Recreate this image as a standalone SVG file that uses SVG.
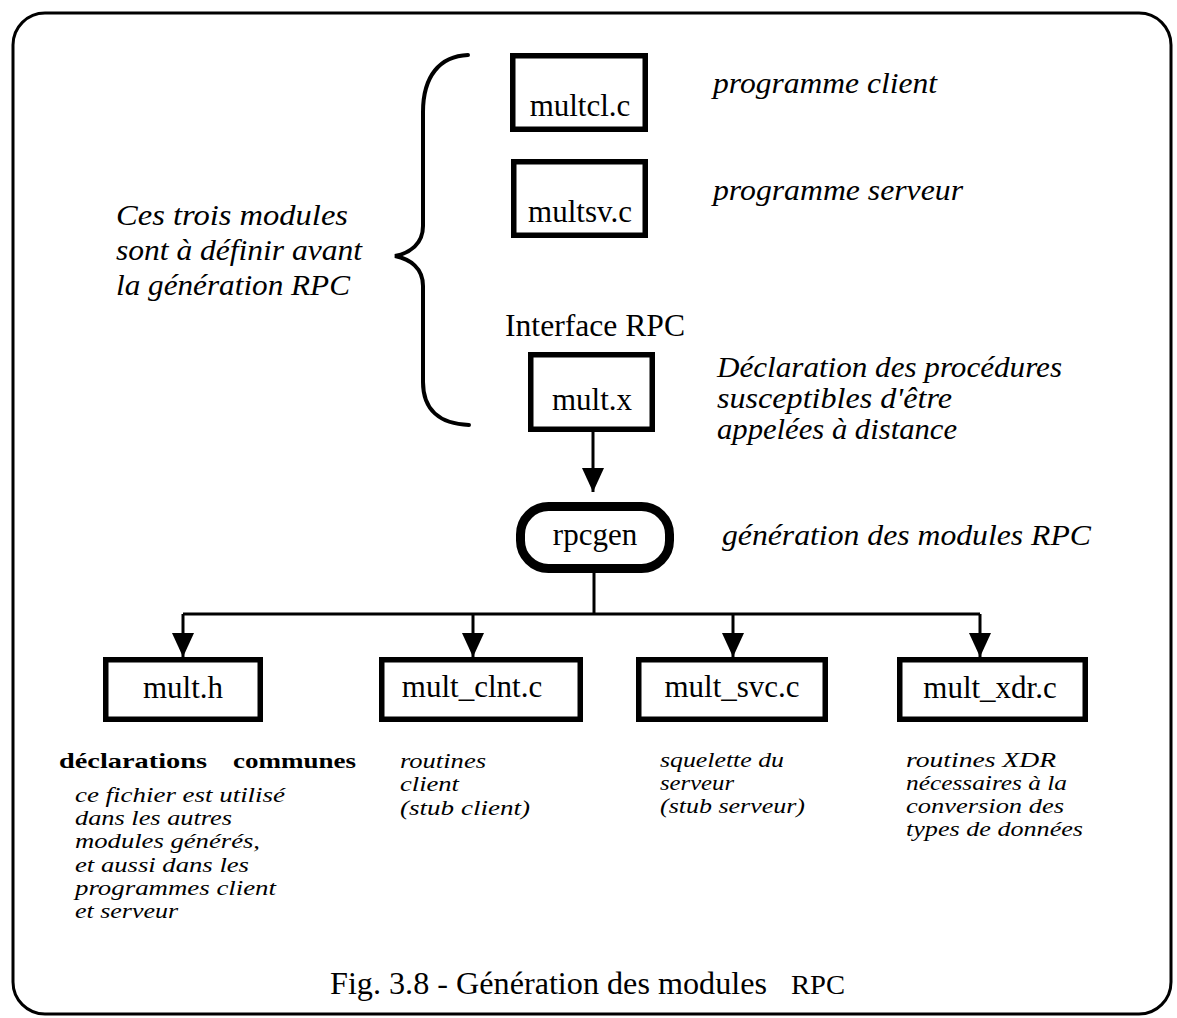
<svg xmlns="http://www.w3.org/2000/svg" width="1177" height="1018" viewBox="0 0 1177 1018">
<style>
  .frame{fill:none;stroke:#000;stroke-width:3}
  .box{fill:#fff;stroke:#000;stroke-width:5.5}
  .rbox{fill:#fff;stroke:#000;stroke-width:9}
  .brace{fill:none;stroke:#000;stroke-width:4;stroke-linecap:round}
  .conn{fill:none;stroke:#000;stroke-width:3}
  .lbl{font-family:"Liberation Serif","Times New Roman",serif;font-size:31px;fill:#000}
  .it{font-family:"Liberation Serif","Times New Roman",serif;font-style:italic;font-size:30px;fill:#000}
  .its{font-family:"Liberation Serif","Times New Roman",serif;font-style:italic;font-size:20px;fill:#000}
  .bold{font-family:"Liberation Serif","Times New Roman",serif;font-weight:bold;font-size:21px;fill:#000}
  .mid{text-anchor:middle}
</style>
<defs>
  <marker id="ah" viewBox="0 0 24 22" markerWidth="24" markerHeight="22" refX="24" refY="11" orient="auto" markerUnits="userSpaceOnUse">
    <path d="M0,0 L24,11 L0,22 Z" fill="#000"/>
  </marker>
</defs>
<rect width="1177" height="1018" fill="#fff"/>
<rect id="frame" class="frame" x="13" y="13" width="1158" height="1001" rx="32" ry="32"/>

<g id="brace-note">
  <path class="brace" d="M468,55 C440,56 423,76 423,112 L423,226 C423,244 410,253 395,256 C410,259 423,268 423,286 L423,382 C423,410 440,424 469,425"/>
  <text class="it" x="116" y="225" textLength="232" lengthAdjust="spacingAndGlyphs">Ces trois modules</text>
  <text class="it" x="116" y="260" textLength="246" lengthAdjust="spacingAndGlyphs">sont à définir avant</text>
  <text class="it" x="116" y="295" textLength="234" lengthAdjust="spacingAndGlyphs">la génération RPC</text>
</g>

<g id="node-multcl">
  <rect class="box" x="512.75" y="55.75" width="132.5" height="73.5"/>
  <text class="lbl mid" x="580" y="116">multcl.c</text>
  <text class="it" x="713" y="93" textLength="224" lengthAdjust="spacingAndGlyphs">programme client</text>
</g>

<g id="node-multsv">
  <rect class="box" x="513.75" y="161.75" width="131.5" height="73.5"/>
  <text class="lbl mid" x="580" y="222">multsv.c</text>
  <text class="it" x="713" y="200" textLength="250" lengthAdjust="spacingAndGlyphs">programme serveur</text>
</g>

<g id="node-multx">
  <text class="lbl" x="505" y="336" textLength="180" lengthAdjust="spacingAndGlyphs">Interface RPC</text>
  <rect class="box" x="530.75" y="354.75" width="121.5" height="74.5"/>
  <text class="lbl mid" x="592" y="410">mult.x</text>
  <text class="it" x="717" y="377" textLength="345" lengthAdjust="spacingAndGlyphs">Déclaration des procédures</text>
  <text class="it" x="717" y="408" textLength="235" lengthAdjust="spacingAndGlyphs">susceptibles d'être</text>
  <text class="it" x="717" y="439" textLength="240" lengthAdjust="spacingAndGlyphs">appelées à distance</text>
</g>

<g id="node-rpcgen">
  <rect class="rbox" x="520.5" y="506.5" width="149" height="62" rx="28" ry="28"/>
  <text class="lbl mid" x="595" y="545">rpcgen</text>
  <text class="it" x="722" y="545" textLength="369" lengthAdjust="spacingAndGlyphs">génération des modules RPC</text>
</g>

<g id="connectors">
  <path class="conn" d="M593,432 L593,492" marker-end="url(#ah)"/>
  <path class="conn" d="M594,573 L594,614"/>
  <path class="conn" d="M183,614 L980,614"/>
  <path class="conn" d="M183,614 L183,657" marker-end="url(#ah)"/>
  <path class="conn" d="M473,614 L473,657" marker-end="url(#ah)"/>
  <path class="conn" d="M733,614 L733,657" marker-end="url(#ah)"/>
  <path class="conn" d="M980,614 L980,657" marker-end="url(#ah)"/>
</g>

<g id="node-multh">
  <rect class="box" x="105.75" y="659.75" width="154.5" height="59.5"/>
  <text class="lbl mid" x="183" y="698">mult.h</text>
  <text class="bold" x="59" y="768" textLength="148" lengthAdjust="spacingAndGlyphs">déclarations</text>
  <text class="bold" x="233" y="768" textLength="123" lengthAdjust="spacingAndGlyphs">communes</text>
  <text class="its" x="75" y="802" textLength="210" lengthAdjust="spacingAndGlyphs">ce fichier est utilisé</text>
  <text class="its" x="75" y="825" textLength="157" lengthAdjust="spacingAndGlyphs">dans les autres</text>
  <text class="its" x="75" y="848" textLength="185" lengthAdjust="spacingAndGlyphs">modules générés,</text>
  <text class="its" x="75" y="872" textLength="174" lengthAdjust="spacingAndGlyphs">et aussi dans les</text>
  <text class="its" x="75" y="895" textLength="201" lengthAdjust="spacingAndGlyphs">programmes client</text>
  <text class="its" x="75" y="918" textLength="103" lengthAdjust="spacingAndGlyphs">et serveur</text>
</g>

<g id="node-multclnt">
  <rect class="box" x="381.75" y="659.75" width="198.5" height="59.5"/>
  <text class="lbl mid" x="472" y="697">mult_clnt.c</text>
  <text class="its" x="400" y="768" textLength="86" lengthAdjust="spacingAndGlyphs">routines</text>
  <text class="its" x="400" y="791" textLength="59" lengthAdjust="spacingAndGlyphs">client</text>
  <text class="its" x="400" y="815" textLength="130" lengthAdjust="spacingAndGlyphs">(stub client)</text>
</g>

<g id="node-multsvc">
  <rect class="box" x="638.75" y="659.75" width="186.5" height="59.5"/>
  <text class="lbl mid" x="732" y="697">mult_svc.c</text>
  <text class="its" x="660" y="767" textLength="124" lengthAdjust="spacingAndGlyphs">squelette du</text>
  <text class="its" x="660" y="790" textLength="74" lengthAdjust="spacingAndGlyphs">serveur</text>
  <text class="its" x="660" y="813" textLength="145" lengthAdjust="spacingAndGlyphs">(stub serveur)</text>
</g>

<g id="node-multxdr">
  <rect class="box" x="899.75" y="659.75" width="185.5" height="59.5"/>
  <text class="lbl mid" x="990" y="698">mult_xdr.c</text>
  <text class="its" x="906" y="767" textLength="150" lengthAdjust="spacingAndGlyphs">routines XDR</text>
  <text class="its" x="906" y="790" textLength="161" lengthAdjust="spacingAndGlyphs">nécessaires à la</text>
  <text class="its" x="906" y="813" textLength="158" lengthAdjust="spacingAndGlyphs">conversion des</text>
  <text class="its" x="906" y="836" textLength="177" lengthAdjust="spacingAndGlyphs">types de données</text>
</g>

<g id="caption">
  <text class="lbl" x="330" y="994" textLength="437" lengthAdjust="spacingAndGlyphs">Fig. 3.8 - Génération des modules</text>
  <text class="lbl" x="791" y="994" style="font-size:28px" textLength="54" lengthAdjust="spacingAndGlyphs">RPC</text>
</g>
</svg>
